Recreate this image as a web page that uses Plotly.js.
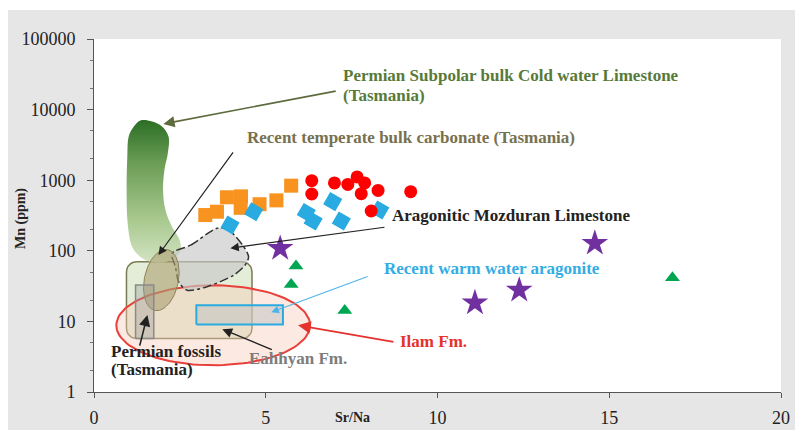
<!DOCTYPE html>
<html>
<head>
<meta charset="utf-8">
<script src="https://cdn.plot.ly/plotly-3.0.1.min.js"></script>
<style>html,body{margin:0;padding:0;background:#fff;}</style>
</head>
<body>
<div id="chart" style="width:795px;height:430px;"></div>
<script>
// ---- Sample data: Sr/Na ratio vs Mn (ppm) ----
const srNaRed = [6.34, 6.34, 7.00, 7.39, 7.66, 7.88, 7.78, 8.27, 8.07, 9.22];
const mnRed   = [986, 638, 914, 871, 1112, 914, 645, 716, 366, 688];

const srNaOrange = [3.24, 3.58, 3.87, 4.28, 4.27, 4.82, 5.31, 5.74];
const mnOrange   = [321, 358, 573, 590, 406, 457, 518, 837];

const srNaBlue = [3.96, 4.65, 6.18, 6.38, 6.95, 7.20, 8.32];
const mnBlue   = [232, 358, 349, 264, 497, 264, 378];

const srNaStar = [5.42, 11.09, 12.38, 14.58];
const mnStar   = [108, 18.3, 27.7, 128];

const srNaTri = [5.88, 5.74, 7.30, 16.84];
const mnTri   = [60.8, 33.4, 14.3, 41.4];

// ---- Reference fields (outlines in Sr/Na, Mn) ----
const coldX  = [1.16, 1.35, 1.69, 1.98, 2.17, 2.15, 2.05, 2.01, 2.08, 2.27, 2.49, 2.52, 2.32, 1.98, 1.64, 1.35, 1.11, 0.98, 0.95, 0.97, 1.01, 1.16];
const coldMn = [5750, 7000, 6780, 5750, 4150, 2420, 1400, 728, 378, 219, 142, 103, 78, 68, 70, 82, 114, 245, 728, 2160, 4150, 5750];

const mozX  = [2.27, 2.81, 3.58, 3.92, 4.36, 4.50, 4.40, 4.06, 3.29, 2.71, 2.47, 2.37, 2.27];
const mozMn = [92, 120, 208, 197, 114, 82, 63, 45, 31, 27.7, 36, 59, 92];

const eahhyanX  = [0.945, 4.60];
const eahhyanMn = [5.72, 69.9];

const fossilX  = [1.21, 1.74];
const fossilMn = [5.72, 32.7];

const warmX  = [2.98, 5.50];
const warmMn = [9.04, 17.0];

// ellipse fields: centre Sr/Na, centre Mn, half-width (Sr/Na), half-height (decades), tilt (deg)
const ilamEllipse      = [3.47, 8.81, 2.82, 0.567, 0];
const temperateEllipse = [1.96, 38.5, 0.494, 0.44, 12];

// ---- Text labels ----
const labelText = [
  'Permian Subpolar bulk Cold water Limestone', '(Tasmania)',
  'Recent temperate bulk carbonate (Tasmania)',
  'Aragonitic Mozduran Limestone',
  'Recent warm water aragonite',
  'Ilam Fm.',
  'Eahhyan Fm.',
  'Permian fossils', '(Tasmania)'
];
const labelX  = [7.19, 7.19, 4.40, 8.62, 8.39, 8.85, 4.46, 0.45, 0.45];
const labelMn = [30100, 15700, 3980, 321, 56.9, 5.25, 3.01, 3.78, 2.10];

// ---- Leader arrows (head -> tail) ----
const arrowHeadX  = [2.02, 1.875, 3.97, 5.16, 5.94, 3.735, 1.555];
const arrowHeadMn = [6270, 87.1, 109, 13.5, 8.83, 7.76, 12.3];
const arrowTailX  = [7.08, 4.08, 8.50, 8.01, 8.76, 5.22, 1.32];
const arrowTailMn = [18450, 2600, 217, 43.9, 5.07, 3.91, 4.32];

const yTickVals = [1, 10, 100, 1000, 10000, 100000];
const yTickText = ['1', '10', '100', '1000', '10000', '100000'];
const xTickVals = [0, 5, 10, 15, 20];

// ---- Geometry helpers ----
const W = 795, H = 430;
const M = {l: 94, r: 14, t: 39, b: 38};
const KX = (W - M.l - M.r) / 20;   // px per Sr/Na unit
const KY = (H - M.t - M.b) / 5;    // px per decade
const lg = Math.log10;

function ellipse(p) {
  const [cx, cMn, hx, hdec, tilt] = p;
  const a = tilt * Math.PI / 180, rx = hx * KX, ry = hdec * KY;
  const xs = [], ys = [];
  for (let i = 0; i <= 120; i++) {
    const t = 2 * Math.PI * i / 120;
    const u = rx * Math.cos(t), v = ry * Math.sin(t);
    const ur = u * Math.cos(a) + v * Math.sin(a);
    const vr = -u * Math.sin(a) + v * Math.cos(a);
    xs.push(cx + ur / KX);
    ys.push(Math.pow(10, lg(cMn) + vr / KY));
  }
  return {x: xs, y: ys};
}

function roundRect(xr, mr, rpx) {
  const x0 = xr[0] * KX, x1 = xr[1] * KX, y0 = lg(mr[0]) * KY, y1 = lg(mr[1]) * KY;
  const corners = [[x1 - rpx, y1 - rpx, 0], [x0 + rpx, y1 - rpx, 90], [x0 + rpx, y0 + rpx, 180], [x1 - rpx, y0 + rpx, 270]];
  const xs = [], ys = [];
  corners.forEach(([cx, cy, st]) => {
    for (let k = 0; k <= 8; k++) {
      const t = (st + k * 90 / 8) * Math.PI / 180;
      xs.push((cx + rpx * Math.cos(t)) / KX);
      ys.push(Math.pow(10, (cy + rpx * Math.sin(t)) / KY));
    }
  });
  xs.push(xs[0]); ys.push(ys[0]);
  return {x: xs, y: ys};
}

function rect(xr, mr) {
  return {x: [xr[0], xr[1], xr[1], xr[0], xr[0]], y: [mr[0], mr[0], mr[1], mr[1], mr[0]]};
}

function field(shape, fill, lineColor, lineWidth, dash, extra) {
  return Object.assign({
    type: 'scatter', mode: 'lines', x: shape.x, y: shape.y,
    fill: 'toself', fillcolor: fill,
    line: {color: lineColor, width: lineWidth, dash: dash || 'solid'},
    hoverinfo: 'skip', showlegend: false
  }, extra || {});
}

const traces = [
  field(roundRect(eahhyanX, eahhyanMn, 10), 'rgba(196,216,166,0.45)', '#7b7b55', 1.5),
  field(ellipse(ilamEllipse), 'rgba(248,202,182,0.40)', '#e8403a', 2),
  field({x: coldX, y: coldMn}, '#6fa059', 'rgba(0,0,0,0)', 0, 'solid', {
    line: {color: 'rgba(0,0,0,0)', width: 0, shape: 'spline', smoothing: 1},
    fillgradient: {type: 'vertical', colorscale: [[0, '#d2e3c2'], [0.3, '#a9c98f'], [0.7, '#6b9d55'], [1, '#2c6e25']]}
  }),
  field({x: mozX, y: mozMn}, 'rgba(200,200,200,0.65)', '#333', 1.5, 'dashdot', {
    line: {color: '#333', width: 1.5, dash: 'dashdot', shape: 'spline', smoothing: 0.8}
  }),
  field(ellipse(temperateEllipse), 'rgba(172,158,112,0.6)', '#8b8257', 1),
  field(rect(fossilX, fossilMn), 'rgba(150,150,150,0.35)', '#8a8a8a', 1.5),
  field(rect(warmX, warmMn), 'rgba(195,195,195,0.55)', '#29abe2', 2),
  {type: 'scatter', mode: 'markers', x: srNaOrange, y: mnOrange, showlegend: false,
   marker: {symbol: 'square', size: 14, color: '#f7931e'}},
  {type: 'scatter', mode: 'markers', x: srNaBlue, y: mnBlue, showlegend: false,
   marker: {symbol: 'square', size: 14, angle: 30, color: '#29abe2'}},
  {type: 'scatter', mode: 'markers', x: srNaRed, y: mnRed, showlegend: false,
   marker: {symbol: 'circle', size: 13, color: '#ff0000'}},
  {type: 'scatter', mode: 'markers', x: srNaStar, y: mnStar, showlegend: false,
   marker: {symbol: 'star', size: 20, color: '#7030a0'}},
  {type: 'scatter', mode: 'markers', x: srNaTri, y: mnTri, showlegend: false,
   marker: {symbol: 'triangle-up', size: 13, color: '#00a651'}}
];

const labelColor = ['#587a38', '#587a38', '#77714f', '#222222', '#33ade4', '#e5322d', '#7d7d7d', '#222222', '#222222'];
const annotations = labelText.map((t, i) => ({
  text: t, x: labelX[i], y: lg(labelMn[i]), xref: 'x', yref: 'y',
  xanchor: 'left', yanchor: 'middle', showarrow: false,
  font: {family: 'Liberation Serif', size: 17, weight: 'bold', color: labelColor[i]}
}));

const arrowColor = ['#5d6b3e', '#222222', '#222222', '#4fb3e8', '#e5322d', '#222222', '#222222'];
const arrowWidth = [1.6, 1.2, 1.2, 1.1, 1.8, 1.4, 1.6];
arrowHeadX.forEach((hx, i) => {
  annotations.push({
    text: '', x: hx, y: lg(arrowHeadMn[i]), xref: 'x', yref: 'y',
    ax: arrowTailX[i], ay: lg(arrowTailMn[i]), axref: 'x', ayref: 'y',
    showarrow: true, arrowhead: 2, arrowsize: 1.4, arrowwidth: arrowWidth[i],
    arrowcolor: arrowColor[i], standoff: 0
  });
});

const PW = W - M.l - M.r, PH = H - M.t - M.b;

// axis titles
annotations.push({
  text: 'Mn (ppm)', xref: 'paper', yref: 'paper', x: (21 - M.l) / PW, y: 0.49,
  textangle: -90, showarrow: false, xanchor: 'center', yanchor: 'middle',
  font: {family: 'Liberation Serif', size: 14, weight: 'bold', color: '#222'}
});
annotations.push({
  text: 'Sr/Na', xref: 'paper', yref: 'paper', x: (352 - M.l) / PW, y: -(417 - (H - M.b)) / PH,
  showarrow: false, xanchor: 'center', yanchor: 'middle',
  font: {family: 'Liberation Serif', size: 14, weight: 'bold', color: '#222'}
});

const layout = {
  width: W, height: H, margin: M,
  paper_bgcolor: '#e6e6e6', plot_bgcolor: '#ffffff',
  showlegend: false,
  font: {family: 'Liberation Serif', color: '#222'},
  xaxis: {
    range: [0, 20], tickmode: 'array', tickvals: xTickVals,
    showgrid: false, zeroline: false, showline: true, linecolor: '#555', linewidth: 1,
    ticks: 'outside', ticklen: 5, tickcolor: '#555',
    tickfont: {family: 'Liberation Serif', size: 18, color: '#222'}, ticklabelstandoff: 4
  },
  yaxis: {
    type: 'log', range: [0, 5], tickmode: 'array', tickvals: yTickVals, ticktext: yTickText,
    showgrid: false, zeroline: false, showline: true, linecolor: '#555', linewidth: 1,
    ticks: 'outside', ticklen: 6, tickcolor: '#555',
    minor: {ticks: 'outside', ticklen: 3, tickcolor: '#777', showgrid: false},
    tickfont: {family: 'Liberation Serif', size: 18, color: '#222'}, ticklabelstandoff: 8
  },
  shapes: [
    {type: 'rect', xref: 'paper', yref: 'paper', layer: 'below',
     x0: -0.3, x1: 1.3, y0: (H - M.b - 10) / PH, y1: 1.3, fillcolor: '#ffffff', line: {width: 0}},
    {type: 'rect', xref: 'paper', yref: 'paper', layer: 'below',
     x0: -0.3, x1: (8 - M.l) / PW, y0: -0.3, y1: 1.3, fillcolor: '#ffffff', line: {width: 0}}
  ],
  annotations: annotations
};

Plotly.newPlot('chart', traces, layout, {displayModeBar: false, staticPlot: true});
</script>
</body>
</html>
